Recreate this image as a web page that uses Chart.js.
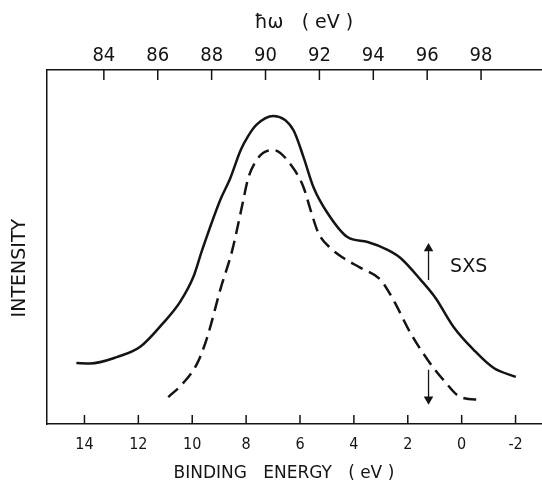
<!DOCTYPE html>
<html lang="en">
  <head>
    <meta charset="utf-8" />
    <title>SXS binding energy</title>
    <style>
      * {
        margin: 0;
        padding: 0;
      }
      body {
        background: white;
        overflow: hidden;
      }
      .chartBox {
        width: 548px;
        height: 484px;
      }
      canvas {
        display: block;
      }
    </style>
  </head>
  <body>
    <div class="chartBox">
      <canvas id="myChart"></canvas>
    </div>

    <script src="https://cdn.jsdelivr.net/npm/chart.js"></script>

    <script>
      // binding energy (eV) vs intensity (arb. units, 0-100)
      const solidBE = [14.3, 13.79, 12.8, 11.93, 11.08, 10.45, 9.96, 9.63, 8.96, 8.6, 8.2, 7.92, 7.62, 6.99, 6.25, 5.87, 5.5, 4.98, 4.24, 3.49, 2.75, 2.27, 1.52, 0.97, 0.3, -0.45, -1.19, -2.01];
      const solidI = [17.2, 17.1, 18.9, 21.8, 28.5, 34.5, 41.5, 49.2, 63.3, 69.2, 77.4, 81.4, 84.5, 87.0, 83.1, 75.4, 66.9, 59.6, 52.8, 51.4, 49.2, 46.9, 40.7, 35.6, 27.4, 20.9, 15.8, 13.3];

      const dashBE = [10.89, 10.33, 9.81, 9.44, 8.96, 8.51, 8.18, 7.92, 7.66, 7.36, 6.99, 6.28, 5.87, 5.61, 5.32, 4.87, 4.39, 3.75, 3.01, 2.53, 1.9, 1.26, 0.67, 0.04, -0.71];
      const dashI = [7.6, 11.6, 17.2, 24.6, 37.9, 49.2, 60.5, 69.5, 74.0, 76.6, 77.4, 72.6, 66.9, 60.5, 54.0, 49.7, 46.9, 44.1, 40.7, 35.0, 25.7, 18.1, 12.4, 7.6, 6.8];

      const beTicks = [14, 12, 10, 8, 6, 4, 2, 0, -2];
      const hwTicks = [84, 86, 88, 90, 92, 94, 96, 98];
      const hwOffset = 97.28; // hw = hwOffset - BE

      const beMin = -3.0;
      const beMax = 15.39;

      // arrows: BE position, [from, to] intensity
      const arrowBE = 1.23;
      const upArrow = [40.7, 49.6];
      const downArrow = [15.3, 7.0];

      const ink = "#141414";
      const tickFamily = "'Liberation Sans Narrow', 'DejaVu Sans Condensed', sans-serif";

      const pts = (xs, ys) => xs.map((x, i) => ({ x: x, y: ys[i] }));

      const noSidePad = (s) => {
        s.paddingLeft = 0;
        s.paddingRight = 0;
        s.paddingTop = 0;
        s.paddingBottom = 0;
      };

      const innerTicks = {
        id: "innerTicks",
        afterDraw(chart) {
          const { ctx, chartArea: { top, bottom }, scales: { x, x2, y } } = chart;
          ctx.save();
          ctx.strokeStyle = ink;
          ctx.lineWidth = 1.5;
          ctx.beginPath();
          beTicks.forEach((v) => {
            const px = x.getPixelForValue(v);
            ctx.moveTo(px, bottom);
            ctx.lineTo(px, bottom - 9);
          });
          hwTicks.forEach((v) => {
            const px = x2.getPixelForValue(v);
            ctx.moveTo(px, top);
            ctx.lineTo(px, top + 10);
          });
          ctx.stroke();

          // SXS label beside the arrows
          ctx.font = "19px 'DejaVu Sans', sans-serif";
          ctx.fillStyle = ink;
          ctx.textAlign = "center";
          ctx.textBaseline = "middle";
          ctx.fillText("SXS", x.getPixelForValue(-0.26), y.getPixelForValue(44.4));
          ctx.restore();
        },
      };

      const config = {
        type: "line",
        data: {
          datasets: [
            {
              data: pts(solidBE, solidI),
              borderColor: ink,
              borderWidth: 2.5,
              pointRadius: 0,
              cubicInterpolationMode: "monotone",
            },
            {
              data: pts(dashBE, dashI),
              borderColor: ink,
              borderWidth: 2.5,
              borderDash: [13, 7],
              pointRadius: 0,
              cubicInterpolationMode: "monotone",
            },
            {
              data: pts([arrowBE, arrowBE], upArrow),
              borderColor: ink,
              borderWidth: 1.3,
              pointRadius: [0, 5.5],
              pointStyle: "triangle",
              rotation: 0,
              backgroundColor: ink,
              pointBorderWidth: 0,
            },
            {
              data: pts([arrowBE, arrowBE], downArrow),
              borderColor: ink,
              borderWidth: 1.3,
              pointRadius: [0, 5.5],
              pointStyle: "triangle",
              rotation: 180,
              backgroundColor: ink,
              pointBorderWidth: 0,
            },
          ],
        },
        options: {
          responsive: true,
          maintainAspectRatio: false,
          animation: false,
          layout: { padding: 0 },
          plugins: {
            legend: { display: false },
            tooltip: { enabled: false },
          },
          scales: {
            x: {
              type: "linear",
              position: "bottom",
              reverse: true,
              min: beMin,
              max: beMax,
              afterBuildTicks: (s) => {
                s.ticks = beTicks.map((v) => ({ value: v }));
              },
              afterFit: (s) => {
                s.height = 60;
                noSidePad(s);
              },
              grid: { display: false, drawTicks: false },
              border: { display: true, color: ink, width: 1.5 },
              ticks: { color: ink, font: { family: tickFamily, size: 16 }, padding: 11 },
              title: {
                display: true,
                text: "BINDING   ENERGY   ( eV )    ",
                color: ink,
                font: { family: "'DejaVu Sans', sans-serif", size: 17 },
                padding: { top: 2, bottom: 0 },
              },
            },
            x2: {
              type: "linear",
              position: "top",
              min: hwOffset - beMax,
              max: hwOffset - beMin,
              afterBuildTicks: (s) => {
                s.ticks = hwTicks.map((v) => ({ value: v }));
              },
              afterFit: (s) => {
                s.height = 70;
                noSidePad(s);
              },
              grid: { display: false, drawTicks: false },
              border: { display: true, color: ink, width: 1.5 },
              ticks: { color: ink, font: { family: tickFamily, size: 20 }, padding: 2 },
              title: {
                display: true,
                text: "   ħω   ( eV )",
                color: ink,
                font: { family: "'DejaVu Sans', sans-serif", size: 19 },
                padding: { top: 12, bottom: 0 },
              },
            },
            y: {
              min: 0,
              max: 100,
              afterFit: (s) => {
                s.width = 47;
                noSidePad(s);
              },
              grid: { display: false, drawTicks: false },
              border: { display: true, color: ink, width: 1.5 },
              ticks: { display: false },
              title: {
                display: true,
                text: "INTENSITY       ",
                color: ink,
                font: { family: "'DejaVu Sans', sans-serif", size: 19 },
                padding: { top: 9, bottom: 0 },
              },
            },
          },
        },
        plugins: [innerTicks],
      };

      const myChart = new Chart(document.getElementById("myChart"), config);
    </script>
  </body>
</html>
